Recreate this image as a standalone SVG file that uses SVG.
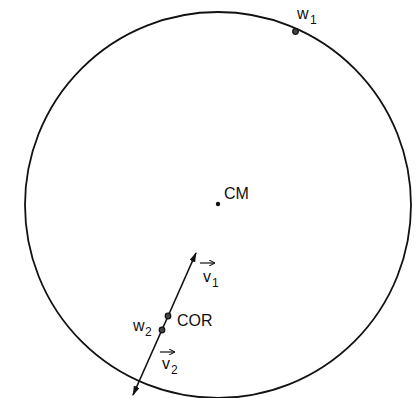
<svg xmlns="http://www.w3.org/2000/svg" width="420" height="398" viewBox="0 0 420 398">
<style>
text{font-family:"Liberation Sans",Arial,sans-serif;fill:#111;font-size:16px}
.sub{font-size:12px}
.dot{fill:#444;stroke:#111;stroke-width:1.2}
.va{stroke:#111;stroke-width:1.2}
</style>
<defs>
<marker id="ah" viewBox="0 0 10 6" refX="9" refY="3" markerWidth="10" markerHeight="6" markerUnits="userSpaceOnUse" orient="auto"><path d="M0,0 L10,3 L0,6 Z" fill="#111"/></marker>
<marker id="sa" viewBox="0 0 8 8" refX="8" refY="4" markerWidth="6" markerHeight="6" markerUnits="userSpaceOnUse" orient="auto"><path d="M0,0 L8,4 L0,8" fill="none" stroke="#111" stroke-width="1.4"/></marker>
</defs>
<rect width="420" height="398" fill="#fff"/>
<g id="body"><circle cx="218" cy="205" r="193" fill="none" stroke="#111" stroke-width="1.8"/></g>
<g id="connectors" stroke="#111" stroke-width="1.6" fill="none">
<line x1="165" y1="323" x2="196" y2="253" marker-end="url(#ah)"/>
<line x1="165" y1="323" x2="133" y2="395" marker-end="url(#ah)"/>
</g>
<g id="cm"><circle cx="218" cy="204" r="2.2" fill="#111"/><text x="224" y="199">CM</text></g>
<g id="w1"><circle class="dot" cx="295.5" cy="31.5" r="2.8"/><text x="297" y="19">w</text><text class="sub" x="310" y="24">1</text></g>
<g id="cor"><circle class="dot" cx="168" cy="316" r="2.8"/><text x="177" y="326">COR</text></g>
<g id="w2"><circle class="dot" cx="162" cy="330" r="2.8"/><text x="133" y="331">w</text><text class="sub" x="145" y="336">2</text></g>
<g id="v1"><line class="va" x1="200" y1="263" x2="215" y2="263" marker-end="url(#sa)"/><text x="203" y="282">v</text><text class="sub" x="212" y="287">1</text></g>
<g id="v2"><line class="va" x1="160" y1="352" x2="175" y2="352" marker-end="url(#sa)"/><text x="162" y="369">v</text><text class="sub" x="171" y="374">2</text></g>
</svg>
